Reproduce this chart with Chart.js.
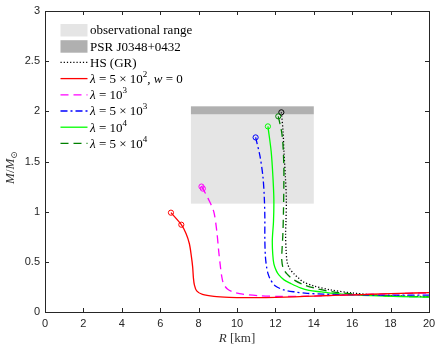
<!DOCTYPE html>
<html>
<head>
<meta charset="utf-8">
<script src="https://cdn.jsdelivr.net/npm/chart.js@4.4.0/dist/chart.umd.min.js"></script>
<style>
  body { margin: 0; background: #fff; }
  #wrap { width: 436px; height: 346px; position: relative; }
</style>
</head>
<body>
<div id="wrap"><canvas id="mr"></canvas></div>
<script>
// tick values
const xTickValues = [0, 2, 4, 6, 8, 10, 12, 14, 16, 18, 20];
const yTickValues = [0, 0.5, 1, 1.5, 2, 2.5, 3];

// shaded constraints (R in km, M in solar masses)
const obsR = [7.6, 14];
const obsM = [1.08, 1.97];
const psrM = [1.97, 2.05];

// mass-radius curves, [R, M], starting at the maximum-mass point
const hsGR = [[12.31,1.99],[12.4,1.8],[12.44,1.61],[12.52,1.35],[12.57,1.12],[12.55,0.9],[12.53,0.78],[12.56,0.6],[12.62,0.49],[12.75,0.43],[12.97,0.38],[13.2,0.34],[13.45,0.3],[14.0,0.26],[14.88,0.22],[16,0.19],[17.5,0.166],[20,0.152]];
const lam5e2 = [[6.56,0.99],[7.10,0.87],[7.35,0.78],[7.52,0.68],[7.62,0.56],[7.69,0.45],[7.73,0.34],[7.78,0.27],[7.9,0.21],[8.2,0.175],[8.8,0.155],[9.6,0.146],[10.5,0.143],[11.5,0.144],[12.5,0.148],[13.5,0.155],[14.5,0.162],[15.5,0.168],[16.5,0.174],[17.5,0.18],[18.5,0.186],[20,0.193]];
const lam1e3 = [[8.15,1.25],[8.22,1.23],[8.5,1.13],[8.79,1.0],[8.95,0.8],[9.05,0.6],[9.12,0.48],[9.2,0.36],[9.3,0.28],[9.5,0.23],[9.8,0.2],[10.3,0.178],[11.2,0.162],[12.2,0.156],[13.2,0.156],[14.2,0.16],[15.2,0.166],[16.5,0.174],[18,0.182],[20,0.19]];
const lam5e3 = [[10.97,1.74],[11.2,1.55],[11.35,1.35],[11.42,1.15],[11.45,0.95],[11.45,0.72],[11.48,0.55],[11.54,0.45],[11.62,0.38],[11.75,0.32],[12.0,0.26],[12.44,0.22],[13.0,0.2],[13.66,0.186],[14.5,0.178],[15.5,0.173],[16.5,0.17],[18,0.168],[20,0.168]];
const lam1e4 = [[11.61,1.85],[11.78,1.6],[11.87,1.35],[11.92,1.12],[11.9,0.9],[11.84,0.72],[11.86,0.58],[11.92,0.48],[12.05,0.41],[12.18,0.37],[12.45,0.32],[12.79,0.285],[13.3,0.24],[13.75,0.215],[14.4,0.2],[15.04,0.185],[16,0.172],[17,0.163],[18.5,0.154],[20,0.148]];
const lam5e4 = [[12.15,1.95],[12.32,1.8],[12.39,1.68],[12.44,1.45],[12.44,1.28],[12.42,1.0],[12.39,0.78],[12.34,0.6],[12.33,0.52],[12.4,0.44],[12.6,0.38],[12.97,0.32],[13.5,0.27],[14.2,0.23],[15,0.2],[16,0.18],[17,0.168],[18.5,0.157],[20,0.15]];

const SERIF = '"Liberation Serif", "DejaVu Serif", serif';
const SANS = '"Liberation Sans", Arial, sans-serif';

// legend entries: label pieces are [text, style]
const legendItems = [
  { kind: 'box', color: '#e5e5e5', label: [['observational range', 'r']] },
  { kind: 'box', color: '#b0b0b0', label: [['PSR J0348+0432', 'r']] },
  { kind: 'line', color: '#000', dash: [1.2, 2], label: [['HS (GR)', 'r']] },
  { kind: 'line', color: '#ff0000', dash: [], label: [['λ', 'i'], [' = 5 × 10', 'r'], ['2', 'sup'], [', ', 'r'], ['w', 'i'], [' = 0', 'r']] },
  { kind: 'line', color: '#ff00ff', dash: [8, 5], label: [['λ', 'i'], [' = 10', 'r'], ['3', 'sup']] },
  { kind: 'line', color: '#0000ff', dash: [7, 3, 2, 3], label: [['λ', 'i'], [' = 5 × 10', 'r'], ['3', 'sup']] },
  { kind: 'line', color: '#00ff00', dash: [], label: [['λ', 'i'], [' = 10', 'r'], ['4', 'sup']] },
  { kind: 'line', color: '#008000', dash: [8, 5], label: [['λ', 'i'], [' = 5 × 10', 'r'], ['4', 'sup']] }
];

function setFont(ctx, st, size) {
  if (st === 'i') ctx.font = `italic ${size}px ${SERIF}`;
  else if (st === 'sup' || st === 'sub') ctx.font = `${Math.round(size * 0.7)}px ${SERIF}`;
  else ctx.font = `${size}px ${SERIF}`;
}

function drawRich(ctx, parts, x, y, size) {
  parts.forEach(([txt, st]) => {
    setFont(ctx, st, size);
    const dy = st === 'sup' ? -size * 0.38 : st === 'sub' ? size * 0.25 : 0;
    ctx.fillText(txt, x, y + dy);
    x += ctx.measureText(txt).width;
  });
  return x;
}

function richWidth(ctx, parts, size) {
  let w = 0;
  parts.forEach(([txt, st]) => { setFont(ctx, st, size); w += ctx.measureText(txt).width; });
  return w;
}

const decor = {
  id: 'decor',
  beforeDatasetsDraw(chart) {
    const { ctx, scales: { x, y } } = chart;
    ctx.save();
    const x0 = x.getPixelForValue(obsR[0]), x1 = x.getPixelForValue(obsR[1]);
    ctx.fillStyle = '#e5e5e5';
    ctx.fillRect(x0, y.getPixelForValue(obsM[1]), x1 - x0, y.getPixelForValue(obsM[0]) - y.getPixelForValue(obsM[1]));
    ctx.fillStyle = '#b0b0b0';
    ctx.fillRect(x0, y.getPixelForValue(psrM[1]), x1 - x0, y.getPixelForValue(psrM[0]) - y.getPixelForValue(psrM[1]));
    ctx.restore();
  },
  afterDatasetsDraw(chart) {
    const { ctx, chartArea: a, scales: { x, y } } = chart;
    ctx.save();
    // frame with inward ticks
    ctx.strokeStyle = '#262626';
    ctx.lineWidth = 1;
    ctx.strokeRect(Math.round(a.left) + 0.5, Math.round(a.top) + 0.5, Math.round(a.right - a.left), Math.round(a.bottom - a.top));
    const tl = 4;
    ctx.beginPath();
    xTickValues.forEach(v => {
      const px = Math.round(x.getPixelForValue(v)) + 0.5;
      ctx.moveTo(px, a.bottom); ctx.lineTo(px, a.bottom - tl);
      ctx.moveTo(px, a.top); ctx.lineTo(px, a.top + tl);
    });
    yTickValues.forEach(v => {
      const py = Math.round(y.getPixelForValue(v)) + 0.5;
      ctx.moveTo(a.left, py); ctx.lineTo(a.left + tl, py);
      ctx.moveTo(a.right, py); ctx.lineTo(a.right - tl, py);
    });
    ctx.stroke();

    // legend
    const size = 13;
    const lx0 = a.left + 15.5, lx1 = a.left + 42.5, tx = a.left + 45;
    ctx.textBaseline = 'middle';
    legendItems.forEach((it, i) => {
      const cy = a.top + 19 + i * 16.2;
      if (it.kind === 'box') {
        ctx.fillStyle = it.color;
        ctx.fillRect(lx0, cy - 6, lx1 - lx0, 12.5);
      } else {
        ctx.strokeStyle = it.color;
        ctx.lineWidth = 1.3;
        ctx.setLineDash(it.dash);
        ctx.beginPath();
        ctx.moveTo(lx0, cy); ctx.lineTo(lx1, cy);
        ctx.stroke();
        ctx.setLineDash([]);
      }
      ctx.fillStyle = '#000';
      drawRich(ctx, it.label, tx, cy + 1, size);
    });

    // axis titles
    ctx.fillStyle = '#333';
    const xt = [['R', 'i'], [' [km]', 'r']];
    const xw = richWidth(ctx, xt, 13);
    drawRich(ctx, xt, (a.left + a.right) / 2 - xw / 2, 339, 13);
    const yt = [['M', 'i'], ['/', 'r'], ['M', 'i'], ['⊙', 'sub']];
    const yw = richWidth(ctx, yt, 13);
    ctx.translate(11, (a.top + a.bottom) / 2 + 6);
    ctx.rotate(-Math.PI / 2);
    drawRich(ctx, yt, -yw / 2, 0, 13);
    ctx.restore();
  }
};

function curve(data, color, dash, markers, label) {
  return {
    label,
    data: data.map(([r, m]) => ({ x: r, y: m })),
    showLine: true,
    borderColor: color,
    borderWidth: 1.3,
    borderDash: dash,
    tension: 0.3,
    fill: false,
    pointRadius: data.map((_, i) => markers.includes(i) ? 2.6 : 0),
    pointBorderColor: color,
    pointBackgroundColor: 'rgba(0,0,0,0)',
    pointBorderWidth: 1,
    pointHoverRadius: 0
  };
}

new Chart(document.getElementById('mr'), {
  type: 'scatter',
  data: {
    datasets: [
      curve(lam5e2, '#ff0000', [], [0, 1], 'λ = 5×10², w = 0'),
      curve(lam1e3, '#ff00ff', [8, 5], [0, 1], 'λ = 10³'),
      curve(lam5e3, '#0000ff', [7, 3, 2, 3], [0], 'λ = 5×10³'),
      curve(lam1e4, '#00ff00', [], [0], 'λ = 10⁴'),
      curve(lam5e4, '#008000', [8, 5], [0], 'λ = 5×10⁴'),
      curve(hsGR, '#000000', [1.2, 2], [0], 'HS (GR)')
    ]
  },
  options: {
    responsive: true,
    maintainAspectRatio: false,
    animation: false,
    layout: { padding: { top: 11, right: 7, left: 0, bottom: 0 } },
    plugins: { legend: { display: false }, tooltip: { enabled: false } },
    scales: {
      x: {
        type: 'linear', min: 0, max: 20,
        afterBuildTicks: s => { s.ticks = xTickValues.map(v => ({ value: v })); },
        afterFit: s => { s.height = 34; s.paddingLeft = 0; s.paddingRight = 0; },
        grid: { display: false, drawTicks: false },
        border: { display: false },
        ticks: { padding: 5, color: '#262626', font: { family: SANS, size: 11 }, maxRotation: 0, autoSkip: false, callback: v => String(v) }
      },
      y: {
        type: 'linear', min: 0, max: 3,
        afterBuildTicks: s => { s.ticks = yTickValues.map(v => ({ value: v })); },
        afterFit: s => { s.width = 45; s.paddingTop = 0; s.paddingBottom = 0; },
        grid: { display: false, drawTicks: false },
        border: { display: false },
        ticks: { padding: 5, color: '#262626', font: { family: SANS, size: 11 }, autoSkip: false, callback: v => String(v) }
      }
    }
  },
  plugins: [decor]
});
</script>
</body>
</html>
